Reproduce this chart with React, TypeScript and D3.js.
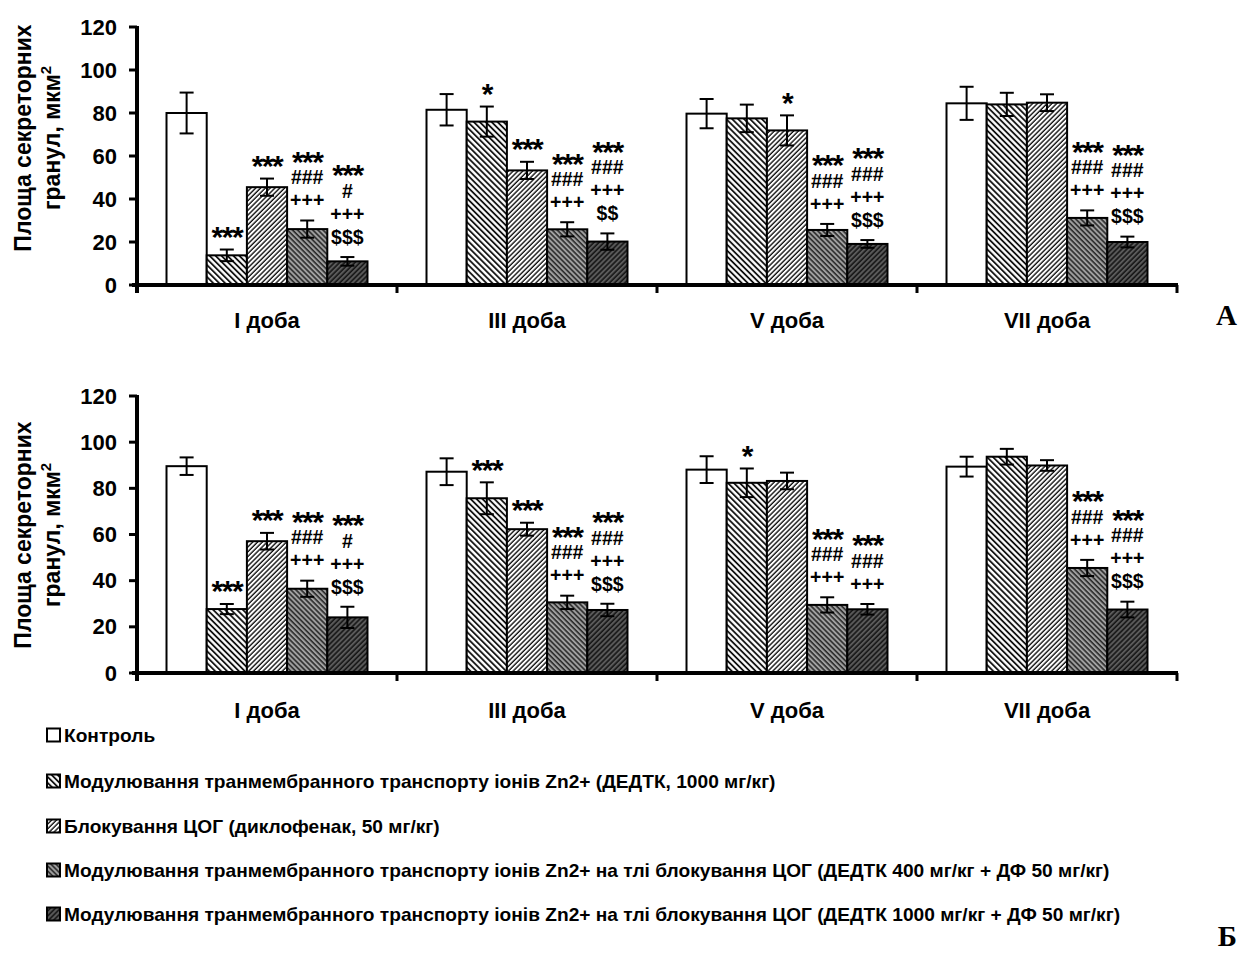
import React from 'react';
import * as d3 from 'd3';

// categories and legend
const days = ['I доба', 'III доба', 'V доба', 'VII доба'];
const seriesNames = [
  'Контроль',
  'Модулювання транмембранного транспорту іонів Zn2+ (ДЕДТК, 1000 мг/кг)',
  'Блокування ЦОГ (диклофенак, 50 мг/кг)',
  'Модулювання транмембранного транспорту іонів Zn2+ на тлі блокування ЦОГ (ДЕДТК 400 мг/кг + ДФ 50 мг/кг)',
  'Модулювання транмембранного транспорту іонів Zn2+ на тлі блокування ЦОГ (ДЕДТК 1000 мг/кг + ДФ 50 мг/кг)',
];
const yTicks = [0, 20, 40, 60, 80, 100, 120];

// panel A: mean per day (5 groups), error, significance marks
const meansA = [
  [80, 13.8, 45.5, 26, 11],
  [81.5, 76, 53.3, 25.9, 20.2],
  [79.7, 77.5, 71.9, 25.6, 19.1],
  [84.5, 84, 84.8, 31.2, 20],
];
const errA = [
  [9.5, 2.7, 4, 4, 2],
  [7.3, 7, 4, 3.3, 3.8],
  [6.8, 6.4, 7, 2.8, 1.8],
  [7.7, 5.4, 3.9, 3.5, 2.5],
];
const marksA = [
  [[], ['***'], ['***'], ['***', '###', '+++'], ['***', '#', '+++', '$$$']],
  [[], ['*'], ['***'], ['***', '###', '+++'], ['***', '###', '+++', '$$']],
  [[], [], ['*'], ['***', '###', '+++'], ['***', '###', '+++', '$$$']],
  [[], [], [], ['***', '###', '+++'], ['***', '###', '+++', '$$$']],
];

// panel Б
const meansB = [
  [89.6, 27.7, 57.1, 36.5, 24.1],
  [87.2, 75.7, 62.3, 30.6, 27.3],
  [88.1, 82.4, 83.2, 29.5, 27.6],
  [89.4, 93.7, 89.9, 45.5, 27.5],
];
const errB = [
  [3.8, 2.2, 3.6, 3.5, 4.6],
  [5.8, 6.9, 2.8, 2.9, 2.7],
  [5.8, 6.2, 3.6, 3.3, 2.3],
  [4.3, 3.4, 2.3, 3.5, 3.4],
];
const marksB = [
  [[], ['***'], ['***'], ['***', '###', '+++'], ['***', '#', '+++', '$$$']],
  [[], ['***'], ['***'], ['***', '###', '+++'], ['***', '###', '+++', '$$$']],
  [[], ['*'], [], ['***', '###', '+++'], ['***', '###', '+++']],
  [[], [], [], ['***', '###', '+++'], ['***', '###', '+++', '$$$']],
];

const FONT = '"Liberation Sans", Arial, sans-serif';
const fills = ['#fff', 'url(#p1)', 'url(#p2)', 'url(#p3)', 'url(#p4)'];

const xLeft = 137;
const xRight = 1177;

const Patterns = () => (
  <defs>
    <pattern id="p1" width={4.2} height={4.2} patternUnits="userSpaceOnUse" patternTransform="rotate(-45)">
      <rect width={4.2} height={4.2} fill="#fff" />
      <line x1={1} x2={1} y1={0} y2={4.2} stroke="#000" strokeWidth={1.7} />
    </pattern>
    <pattern id="p2" width={3.4} height={3.4} patternUnits="userSpaceOnUse" patternTransform="rotate(45)">
      <rect width={3.4} height={3.4} fill="#fff" />
      <line x1={1} x2={1} y1={0} y2={3.4} stroke="#000" strokeWidth={1.3} />
    </pattern>
    <pattern id="p3" width={3.6} height={3.6} patternUnits="userSpaceOnUse" patternTransform="rotate(-45)">
      <rect width={3.6} height={3.6} fill="#a0a0a0" />
      <line x1={1} x2={1} y1={0} y2={3.6} stroke="#222" strokeWidth={1.5} />
    </pattern>
    <pattern id="p4" width={3.6} height={3.6} patternUnits="userSpaceOnUse" patternTransform="rotate(45)">
      <rect width={3.6} height={3.6} fill="#5a5a5a" />
      <line x1={1} x2={1} y1={0} y2={3.6} stroke="#111" strokeWidth={1.5} />
    </pattern>
  </defs>
);

type PanelProps = {
  means: number[][];
  errs: number[][];
  marks: string[][][];
  yTop: number;
  yBottom: number;
  labelY: number;
  titleY: number;
};

const Panel = ({ means, errs, marks, yTop, yBottom, labelY, titleY }: PanelProps) => {
  const x0 = d3.scaleBand<string>().domain(days).range([xLeft, xRight]).paddingInner(0.227).paddingOuter(0.1135);
  const x1 = d3.scaleBand<number>().domain(d3.range(5)).range([0, x0.bandwidth()]);
  const y = d3.scaleLinear().domain([0, 120]).range([yBottom, yTop]);
  const step = (xRight - xLeft) / days.length;

  return (
    <g fontFamily={FONT} fontWeight="bold">
      {/* bars */}
      {days.map((day, i) => (
        <g key={day}>
          {means[i].map((v, s) => (
            <rect
              key={s}
              x={x0(day)! + x1(s)!}
              y={y(v)}
              width={x1.bandwidth()}
              height={y(0) - y(v)}
              fill={fills[s]}
              stroke="#000"
              strokeWidth={2}
            />
          ))}
        </g>
      ))}
      {/* error bars and marks */}
      {days.map((day, i) => (
        <g key={day}>
          {means[i].map((v, s) => {
            const cx = x0(day)! + x1(s)! + x1.bandwidth() / 2;
            const top = y(v + errs[i][s]);
            const bot = y(v - errs[i][s]);
            const lines = marks[i][s];
            return (
              <g key={s}>
                <line x1={cx} x2={cx} y1={top} y2={bot} stroke="#000" strokeWidth={2} />
                <line x1={cx - 7} x2={cx + 7} y1={top} y2={top} stroke="#000" strokeWidth={2} />
                <line x1={cx - 7} x2={cx + 7} y1={bot} y2={bot} stroke="#000" strokeWidth={2} />
                {lines.length > 0 && (
                  <text textAnchor="middle">
                    {lines.map((t, j) => {
                      const cy = top - 20 - (lines.length - 1 - j) * 23;
                      const star = t.startsWith('*');
                      return star ? (
                        <tspan key={j} x={cx} y={cy + 0.58 * 30} fontSize={30} letterSpacing={-1.5}>
                          {t}
                        </tspan>
                      ) : (
                        <tspan key={j} x={cx} y={cy + 6.8} fontSize={19.5} letterSpacing={0}>
                          {t}
                        </tspan>
                      );
                    })}
                  </text>
                )}
              </g>
            );
          })}
        </g>
      ))}
      {/* y axis */}
      <line x1={xLeft} x2={xLeft} y1={y(120) - 1} y2={y(0) + 8} stroke="#000" strokeWidth={4} />
      {yTicks.map((t) => (
        <g key={t}>
          <line x1={xLeft - 8} x2={xLeft} y1={y(t)} y2={y(t)} stroke="#000" strokeWidth={3} />
          <text x={117} y={y(t)} textAnchor="end" dominantBaseline="central" fontSize={22}>
            {t}
          </text>
        </g>
      ))}
      {/* x axis */}
      <line x1={xLeft - 5} x2={xRight + 1} y1={y(0)} y2={y(0)} stroke="#000" strokeWidth={4} />
      {d3.range(1, days.length + 1).map((k) => (
        <line key={k} x1={xLeft + k * step} x2={xLeft + k * step} y1={y(0)} y2={y(0) + 8} stroke="#000" strokeWidth={3} />
      ))}
      {days.map((day) => (
        <text key={day} x={x0(day)! + x0.bandwidth() / 2} y={labelY} textAnchor="middle" dominantBaseline="central" fontSize={22}>
          {day}
        </text>
      ))}
      {/* y title */}
      <g transform={`translate(31,${titleY}) rotate(-90)`}>
        <text x={0} y={0} textAnchor="middle" fontSize={23}>Площа секреторних</text>
        <text x={0} y={29} textAnchor="middle" fontSize={23}>
          гранул, мкм<tspan dy={-9} fontSize={15}>2</tspan>
        </text>
      </g>
    </g>
  );
};

const legendY = [735, 781, 826, 870, 914];

const App = () => {
  return (
    <svg width={1240} height={954} style={{ position: 'absolute', left: 0, top: 0, background: '#fff' }}>
      <Patterns />
      <rect width={1240} height={954} fill="#fff" />
      <Panel means={meansA} errs={errA} marks={marksA} yTop={27} yBottom={285} labelY={320} titleY={138} />
      <Panel means={meansB} errs={errB} marks={marksB} yTop={396} yBottom={673} labelY={710} titleY={535} />
      <g fontFamily={FONT} fontWeight="bold">
        {seriesNames.map((name, s) => (
          <g key={name}>
            <rect x={47} y={legendY[s] - 6.5} width={13} height={13} fill={fills[s]} stroke="#000" strokeWidth={2} />
            <text x={64} y={legendY[s]} dominantBaseline="central" fontSize={19.15}>
              {name}
            </text>
          </g>
        ))}
      </g>
      <g fontFamily='"Liberation Serif", "Times New Roman", serif' fontWeight="bold" fontSize={29}>
        <text x={1237} y={325} textAnchor="end">А</text>
        <text x={1237} y={946} textAnchor="end">Б</text>
      </g>
    </svg>
  );
};

export default App;
